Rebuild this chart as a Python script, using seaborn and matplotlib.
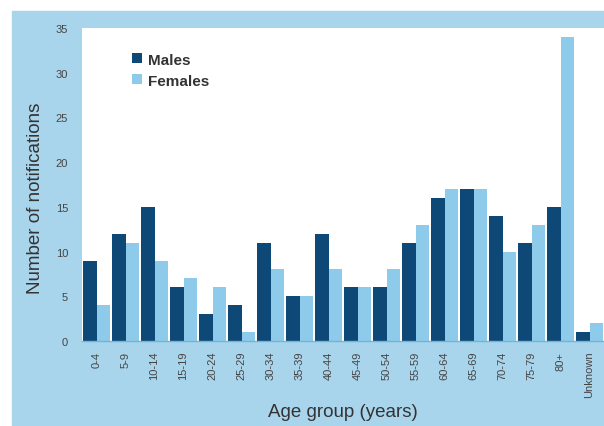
import pandas as pd
import matplotlib
matplotlib.use("Agg")
import matplotlib.pyplot as plt
import seaborn as sns
from matplotlib.patches import Rectangle

age_groups = ['0-4', '5-9', '10-14', '15-19', '20-24', '25-29', '30-34', '35-39',
              '40-44', '45-49', '50-54', '55-59', '60-64', '65-69', '70-74',
              '75-79', '80+', 'Unknown']
males = [9, 12, 15, 6, 3, 4, 11, 5, 12, 6, 6, 11, 16, 17, 14, 11, 15, 1]
females = [4, 11, 9, 7, 6, 1, 8, 5, 8, 6, 8, 13, 17, 17, 10, 13, 34, 2]

df = pd.DataFrame({
    'age': age_groups * 2,
    'count': males + females,
    'sex': ['Males'] * len(males) + ['Females'] * len(females),
})

panel = '#a9d5ec'
sns.set_style('white')
plt.rcParams['font.family'] = ['Liberation Sans', 'DejaVu Sans']

fig = plt.figure(figsize=(6.04, 4.27), dpi=100, facecolor='white')
bg = Rectangle((12 / 604, 0), 1, (427 - 12) / 427,
               transform=fig.transFigure, color=panel, zorder=-5)
fig.add_artist(bg)
ax = fig.add_axes([82 / 604, (427 - 342) / 427, (604 - 82) / 604, (342 - 29) / 427])
ax.set_facecolor('white')
ax.set_zorder(1)

sns.barplot(data=df, x='age', y='count', hue='sex', order=age_groups,
            palette={'Males': '#0d4877', 'Females': '#8ecbea'},
            width=0.95, saturation=1, linewidth=0, ax=ax)

ax.set_ylim(0, 35)
ax.set_xlim(-0.5, len(age_groups) - 0.5)
ax.set_yticks(range(0, 36, 5))
ax.tick_params(axis='y', length=3, color='#4a9ccc', labelsize=8, labelcolor='#444444', pad=7)
ax.tick_params(axis='x', length=0, labelsize=8, labelcolor='#444444', rotation=90, pad=7)
for s in ['top', 'right']:
    ax.spines[s].set_visible(False)
ax.spines['left'].set_visible(False)
ax.spines['bottom'].set_color('#6fb4dc')
ax.spines['bottom'].set_linewidth(1)

ax.set_xlabel('Age group (years)', fontsize=13.5, color='#333333', labelpad=4)
ax.set_ylabel('Number of notifications', fontsize=13.5, color='#333333')
ax.yaxis.set_label_coords(-0.072, 0.46)

leg = ax.legend(loc='upper left', bbox_to_anchor=(0.07, 0.965), frameon=False,
                prop={'size': 11, 'weight': 'bold'}, handlelength=0.65, handleheight=0.65,
                handletextpad=0.4, labelspacing=0.45)
for t in leg.get_texts():
    t.set_color('#333333')

fig.savefig('out.png', dpi=100, facecolor='white')
